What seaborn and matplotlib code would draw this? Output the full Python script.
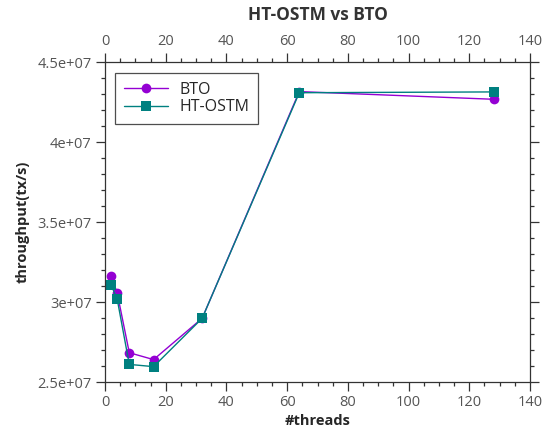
import matplotlib
matplotlib.use("Agg")
import matplotlib.pyplot as plt
from matplotlib.ticker import MultipleLocator, FuncFormatter
import seaborn as sns
import pandas as pd

# Throughput measurements per thread count
threads = [2, 4, 8, 16, 32, 64, 128]
bto = [3.16e7, 3.058e7, 2.683e7, 2.64e7, 2.898e7, 4.315e7, 4.267e7]
ht_ostm = [3.106e7, 3.02e7, 2.61e7, 2.596e7, 2.898e7, 4.308e7, 4.313e7]
series_names = ["BTO", "HT-OSTM"]
colors = {"BTO": "#9400D3", "HT-OSTM": "#008080"}

df = pd.DataFrame({
    "threads": threads * 2,
    "throughput": bto + ht_ostm,
    "algo": [series_names[0]] * len(threads) + [series_names[1]] * len(threads),
})

sns.set_style("ticks")
plt.rcParams["font.family"] = ["Open Sans", "DejaVu Sans"]

fig = plt.figure(figsize=(5.44, 4.38), dpi=100)
ax = fig.add_axes([105 / 544, 1 - 382 / 438, 425 / 544, 320 / 438])

sns.lineplot(
    data=df, x="threads", y="throughput", hue="algo", style="algo",
    markers={"BTO": "o", "HT-OSTM": "s"}, dashes=False,
    palette=colors, linewidth=1.0, markersize=7, markeredgewidth=0,
    ax=ax,
)

ax.set_xlim(0, 140)
ax.set_ylim(2.5e7, 4.5e7)
ax.xaxis.set_major_locator(MultipleLocator(20))
ax.xaxis.set_minor_locator(MultipleLocator(5))
ax.yaxis.set_major_locator(MultipleLocator(5e6))
ax.yaxis.set_minor_locator(MultipleLocator(1e6))


def sci(v, _):
    if v == 0:
        return "0"
    exp = 0
    m = v
    while abs(m) >= 10:
        m /= 10
        exp += 1
    mant = f"{m:.1f}".rstrip("0").rstrip(".")
    return f"{mant}e+{exp:02d}"


ax.yaxis.set_major_formatter(FuncFormatter(sci))

for s in ax.spines.values():
    s.set_visible(True)
    s.set_color("#333333")
    s.set_linewidth(0.9)

ax.tick_params(which="both", direction="out", colors="#333333",
               labelcolor="#555555", labelsize=10.5,
               top=True, right=True, labeltop=True, labelright=False)
ax.tick_params(which="major", length=6.5, width=0.9, pad=3)
ax.tick_params(which="minor", length=3.2, width=0.9)

ax.set_xlabel("#threads", fontsize=10.5, fontweight="bold", labelpad=3)
ax.set_ylabel("throughput(tx/s)", fontsize=10.5, fontweight="bold", labelpad=6)
ax.set_title("HT-OSTM vs BTO", fontsize=12.5, fontweight="bold",
             color="#333333", pad=30)

leg = ax.legend(loc="upper left", bbox_to_anchor=(0.0235, 0.966),
                borderaxespad=0, frameon=True, fancybox=False,
                edgecolor="#222222", fontsize=11.5, handlelength=2.8,
                handletextpad=0.7, borderpad=0.55, labelspacing=0.1)
leg.get_frame().set_linewidth(0.9)

fig.savefig("out.png", dpi=100)
